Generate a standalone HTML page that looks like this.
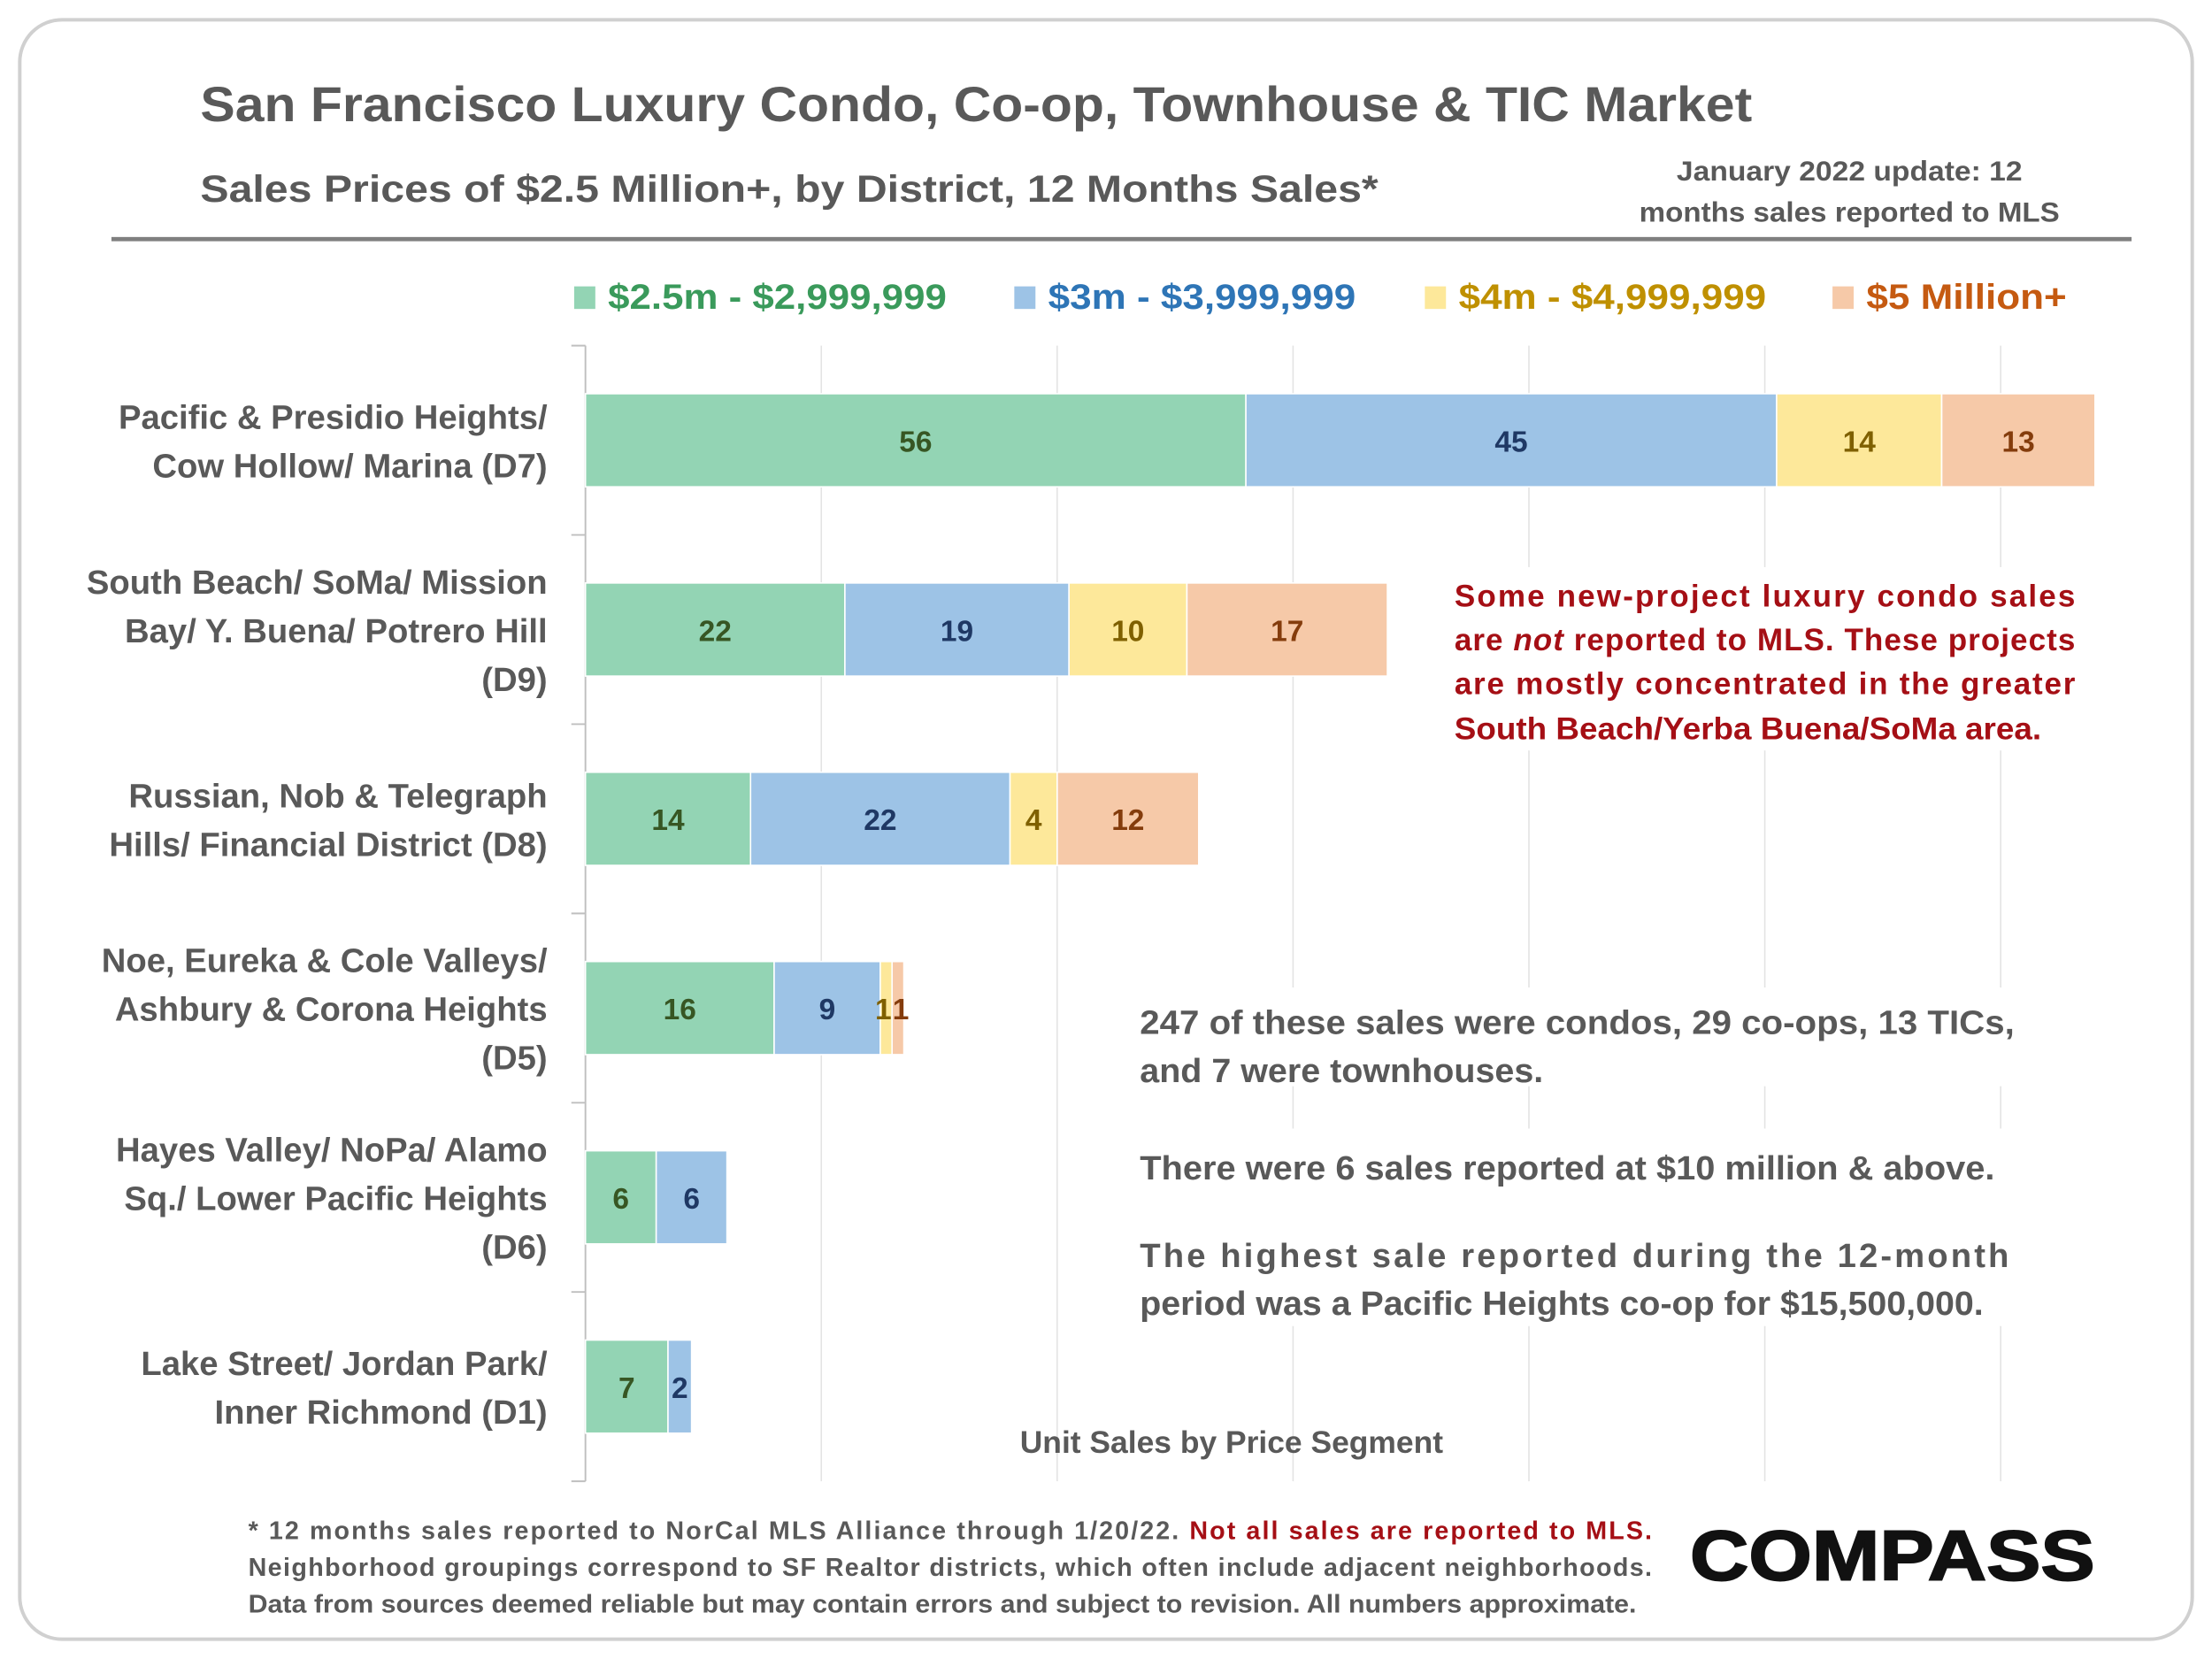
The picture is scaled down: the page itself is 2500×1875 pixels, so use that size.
<!DOCTYPE html>
<html><head><meta charset="utf-8"><style>
html,body{margin:0;padding:0;background:#fff;}
svg{display:block;}
text{font-family:"Liberation Sans",sans-serif;font-weight:bold;}
</style></head><body>
<svg id="chart" width="2500" height="1875" viewBox="0 0 1568 1176" xmlns="http://www.w3.org/2000/svg">
<rect x="14" y="14" width="1540" height="1148" rx="30" fill="#fff" stroke="#d0d0d0" stroke-width="2.5"/>
<text x="142" y="86" font-size="35" fill="#595959" textLength="1100" lengthAdjust="spacingAndGlyphs">San Francisco Luxury Condo, Co-op, Townhouse &amp; TIC Market</text>
<text x="142" y="143" font-size="27" fill="#595959" textLength="835" lengthAdjust="spacingAndGlyphs">Sales Prices of $2.5 Million+, by District, 12 Months Sales*</text>
<text x="1311" y="128" font-size="20" fill="#595959" text-anchor="middle" textLength="245" lengthAdjust="spacingAndGlyphs">January 2022 update: 12</text>
<text x="1311" y="157" font-size="20" fill="#595959" text-anchor="middle" textLength="298" lengthAdjust="spacingAndGlyphs">months sales reported to MLS</text>
<rect x="79" y="168" width="1432" height="3" fill="#7f7f7f"/>
<g id="legend"></g>
<g id="grid"></g>
<g id="bars"></g>
<g id="cats"></g>
<rect x="1020" y="402" width="462" height="130" fill="#fff"/>
<g fill="#a50f15" font-size="22">
<text x="1031" y="430" textLength="440" lengthAdjust="spacing">Some new-project luxury condo sales</text>
<text x="1031" y="461" textLength="440" lengthAdjust="spacing">are <tspan font-style="italic">not</tspan> reported to MLS. These projects</text>
<text x="1031" y="492" textLength="440" lengthAdjust="spacing">are mostly concentrated in the greater</text>
<text x="1031" y="524" textLength="416" lengthAdjust="spacingAndGlyphs">South Beach/Yerba Buena/SoMa area.</text>
</g>
<rect x="798" y="700" width="645" height="70" fill="#fff"/>
<rect x="798" y="800" width="645" height="140" fill="#fff"/>
<g fill="#595959" font-size="24">
<text x="808" y="733" textLength="620" lengthAdjust="spacingAndGlyphs">247 of these sales were condos, 29 co-ops, 13 TICs,</text>
<text x="808" y="767" textLength="286" lengthAdjust="spacingAndGlyphs">and 7 were townhouses.</text>
<text x="808" y="836" textLength="606" lengthAdjust="spacingAndGlyphs">There were 6 sales reported at $10 million &amp; above.</text>
<text x="808" y="898" textLength="616" lengthAdjust="spacing">The highest sale reported during the 12-month</text>
<text x="808" y="932" textLength="598" lengthAdjust="spacingAndGlyphs">period was a Pacific Heights co-op for $15,500,000.</text>
</g>
<text x="873" y="1030" font-size="22" fill="#595959" text-anchor="middle" textLength="300" lengthAdjust="spacingAndGlyphs">Unit Sales by Price Segment</text>
<g font-size="18" fill="#595959">
<text x="176" y="1091" textLength="995" lengthAdjust="spacing">* 12 months sales reported to NorCal MLS Alliance through 1/20/22. <tspan fill="#a50f15">Not all sales are reported to MLS.</tspan></text>
<text x="176" y="1117" textLength="995" lengthAdjust="spacing">Neighborhood groupings correspond to SF Realtor districts, which often include adjacent neighborhoods.</text>
<text x="176" y="1143" textLength="984" lengthAdjust="spacingAndGlyphs">Data from sources deemed reliable but may contain errors and subject to revision. All numbers approximate.</text>
</g>
<text x="1198" y="1120" font-size="50" fill="#111" stroke="#111" stroke-width="1.2" textLength="287" lengthAdjust="spacingAndGlyphs">COMPASS</text>
<script>
const categories=[["Pacific & Presidio Heights/","Cow Hollow/ Marina (D7)"],["South Beach/ SoMa/ Mission","Bay/ Y. Buena/ Potrero Hill","(D9)"],["Russian, Nob & Telegraph","Hills/ Financial District (D8)"],["Noe, Eureka & Cole Valleys/","Ashbury & Corona Heights","(D5)"],["Hayes Valley/ NoPa/ Alamo","Sq./ Lower Pacific Heights","(D6)"],["Lake Street/ Jordan Park/","Inner Richmond (D1)"]];
const seriesNames=["$2.5m - $2,999,999","$3m - $3,999,999","$4m - $4,999,999","$5 Million+"];
const s1=[56,22,14,16,6,7];
const s2=[45,19,22,9,6,2];
const s3=[14,10,4,1,0,0];
const s4=[13,17,12,1,0,0];
const gridTicks=[0,20,40,60,80,100,120];
const series=[s1,s2,s3,s4];
const fills=["#93d4b4","#9dc3e6","#fde89a","#f6c9a8"];
const lblC=["#375623","#1f3864","#7f6000","#843c0c"];
const legC=["#3a9a5b","#2e75b6","#bf9000","#c55a11"];
const NS="http://www.w3.org/2000/svg";
const X0=415,PX=8.36,TOP=245,BOT=1050;
const band=(BOT-TOP)/categories.length;
const xs=v=>X0+v*PX;
function mk(t,a,p){const e=document.createElementNS(NS,t);for(const k in a)e.setAttribute(k,a[k]);p.appendChild(e);return e;}
const grid=document.getElementById('grid');
gridTicks.forEach(t=>{if(t===0)return;
const l=mk('line',{x1:xs(t),x2:xs(t),y1:TOP,y2:BOT,stroke:'#e3e3e3','stroke-width':1},grid);

});
const ax=mk('line',{x1:X0,x2:X0,y1:TOP,y2:BOT,stroke:'#bfbfbf','stroke-width':1.2},grid);


for(let i=0;i<=categories.length;i++){const y=TOP+i*band;
const tk=mk('line',{x1:X0-10,x2:X0,y1:y,y2:y,stroke:'#bfbfbf','stroke-width':1.2},grid);

}
const leg=document.getElementById('legend');
const lx=[407,719,1010,1299],lw=[240,218,218,142];
seriesNames.forEach((n,i)=>{
const r=mk('rect',{x:lx[i],y:203,width:15,height:16,fill:fills[i]},leg);


const t=mk('text',{x:lx[i]+24,y:219,'font-size':25,fill:legC[i],textLength:lw[i],lengthAdjust:'spacingAndGlyphs'},leg);
t.textContent=n;

});
const bars=document.getElementById('bars');
const cats=document.getElementById('cats');
const BH=66;
categories.forEach((c,i)=>{
const cy=TOP+band*(i+0.5);let acc=0;
series.forEach((s,j)=>{const v=s[i];if(!v)return;
const r=mk('rect',{x:xs(acc),y:cy-BH/2,width:v*PX,height:BH,fill:fills[j],stroke:'#fff','stroke-width':1},bars);


const t=mk('text',{x:xs(acc+v/2)+(v===1?(j===2?-2:2):0),y:cy+8,'font-size':21,fill:lblC[j],'text-anchor':'middle'},bars);
t.textContent=v;


acc+=v;});
const lh=34.5,start=cy-(c.length-1)*lh/2+9;
c.forEach((line,k)=>{const t=mk('text',{x:388,y:start+k*lh,'font-size':24,fill:'#595959','text-anchor':'end'},cats);
t.textContent=line;

});
});
</script>
</svg>
</body></html>
